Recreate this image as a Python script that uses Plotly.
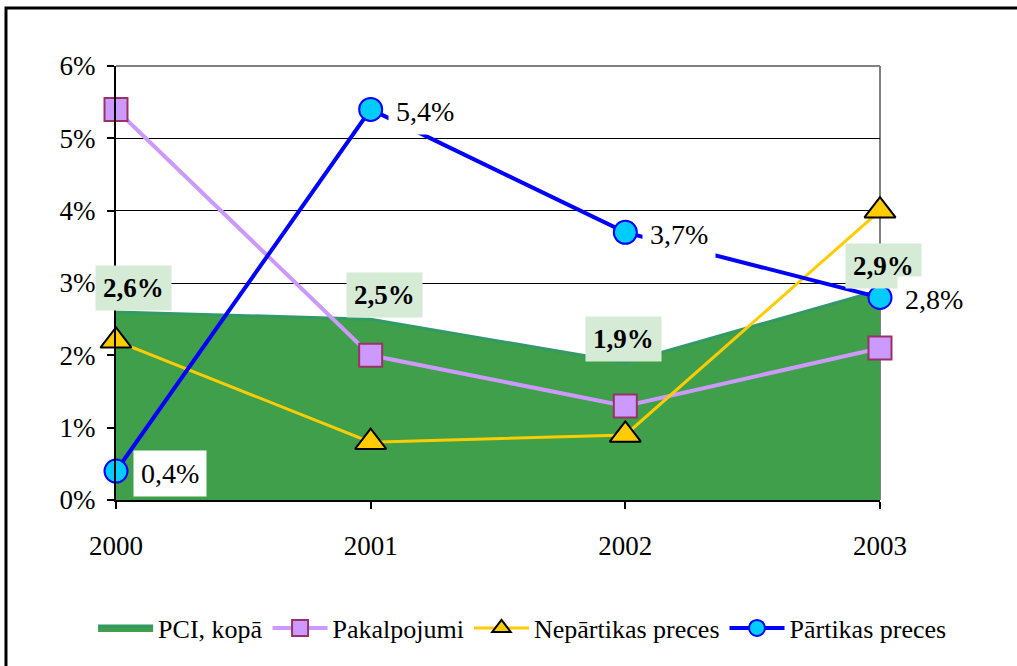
import plotly.graph_objects as go

years = [2000, 2001, 2002, 2003]
pci_kopa = [2.6, 2.5, 1.9, 2.9]
pakalpojumi = [5.4, 2.0, 1.3, 2.1]
nepartikas = [2.2, 0.8, 0.9, 4.0]
partikas = [0.4, 5.4, 3.7, 2.8]
y_ticks = [0, 1, 2, 3, 4, 5, 6]
y_tick_labels = ["0%", "1%", "2%", "3%", "4%", "5%", "6%"]

series_names = ["PCI, kopā", "Pakalpojumi", "Nepārtikas preces", "Pārtikas preces"]

def fmt(v):
    return f"{v:.1f}".replace(".", ",") + "%"

FONT = "Liberation Serif"

fig = go.Figure()

fig.add_trace(go.Scatter(
    x=years, y=pci_kopa, name=series_names[0], mode="lines",
    fill="tozeroy", fillcolor="#3f9f4b",
    line=dict(color="#339966", width=3), cliponaxis=False,
))
fig.add_trace(go.Scatter(
    x=years, y=pakalpojumi, name=series_names[1], mode="lines+markers",
    line=dict(color="#cc99ff", width=4),
    marker=dict(symbol="square", size=23, color="#cc99ff",
                line=dict(color="#993366", width=2)),
    cliponaxis=False,
))
fig.add_trace(go.Scatter(
    x=years, y=nepartikas, name=series_names[2], mode="lines+markers",
    line=dict(color="#ffcc00", width=3),
    marker=dict(symbol="triangle-up", size=27, color="#ffcc00",
                line=dict(color="#000000", width=2)),
    cliponaxis=False,
))
fig.add_trace(go.Scatter(
    x=years, y=partikas, name=series_names[3], mode="lines+markers",
    line=dict(color="#0000ff", width=4),
    marker=dict(symbol="circle", size=23, color="#00ccff",
                line=dict(color="#0000ff", width=2)),
    cliponaxis=False,
))

annotations = []
pci_xshift = [17, 14, -2, 3]
for x, v, dx in zip(years, pci_kopa, pci_xshift):
    annotations.append(dict(
        x=x, y=v, xref="x", yref="y", text=f"<b>{fmt(v)}</b>",
        showarrow=False, xanchor="center", yanchor="bottom",
        xshift=dx, yshift=1,
        font=dict(family=FONT, size=27, color="#000000"),
        bgcolor="#d6ebd6", borderpad=7,
    ))
for x, v in zip(years, partikas):
    annotations.append(dict(
        x=x, y=v, xref="x", yref="y", text=fmt(v),
        showarrow=False, xanchor="left", yanchor="middle",
        xshift=17, yshift=-2,
        font=dict(family=FONT, size=28, color="#000000"),
        bgcolor="#ffffff", borderpad=7,
    ))

shapes = [
    dict(type="rect", xref="paper", yref="paper", x0=-0.144, x1=1.25,
         y0=-0.45, y1=1.1336, line=dict(color="#000000", width=3),
         fillcolor="rgba(0,0,0,0)", layer="below"),
    dict(type="line", xref="paper", yref="paper", x0=0, x1=1, y0=1, y1=1,
         line=dict(color="#808080", width=2), layer="above"),
    dict(type="line", xref="paper", yref="paper", x0=1, x1=1, y0=0, y1=1,
         line=dict(color="#808080", width=2), layer="below"),
]

fig.update_layout(
    width=1017, height=666,
    margin=dict(l=116, r=137, t=66, b=166, autoexpand=False),
    paper_bgcolor="#ffffff", plot_bgcolor="#ffffff",
    font=dict(family=FONT, size=26, color="#000000"),
    showlegend=True,
    legend=dict(orientation="h", x=-0.03, xanchor="left", y=-0.295,
                yanchor="middle", font=dict(family=FONT, size=26),
                itemwidth=55, bgcolor="rgba(0,0,0,0)"),
    annotations=annotations,
    shapes=shapes,
    hovermode=False,
    xaxis=dict(range=[2000, 2003], tickvals=years,
               ticktext=[str(y) for y in years],
               showgrid=False, zeroline=False,
               showline=True, linecolor="#000000", linewidth=2,
               ticks="outside", ticklen=7, tickwidth=1.5, tickcolor="#000000",
               ticklabelstandoff=14,
               tickfont=dict(family=FONT, size=27)),
    yaxis=dict(range=[0, 6], tickvals=y_ticks, ticktext=y_tick_labels,
               showgrid=True, gridcolor="#000000", gridwidth=1,
               zeroline=False,
               showline=True, linecolor="#000000", linewidth=2,
               ticks="outside", ticklen=7, tickwidth=1.5, tickcolor="#000000",
               ticklabelstandoff=6,
               tickfont=dict(family=FONT, size=27)),
)

fig.write_html(
    "out.html",
    config={"displayModeBar": False},
    post_script="document.body.style.margin='0';document.body.style.overflow='hidden';",
)
